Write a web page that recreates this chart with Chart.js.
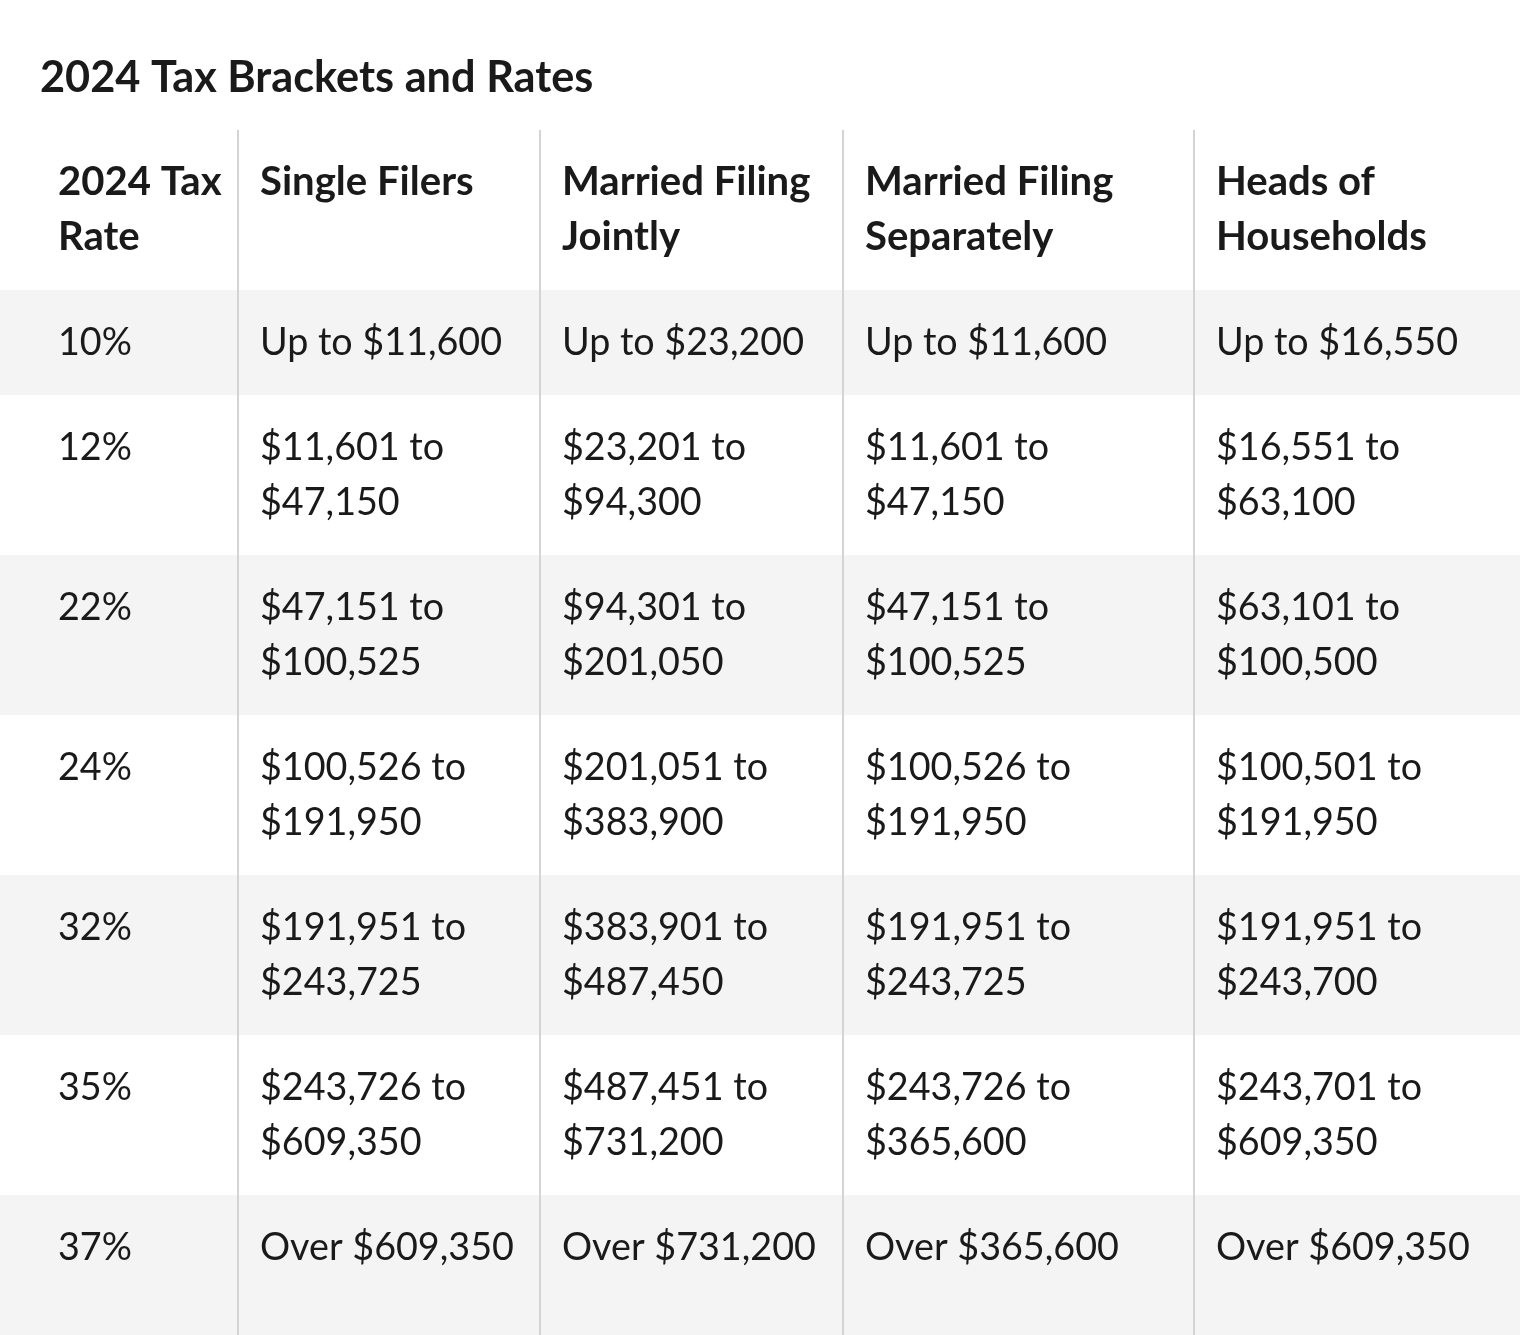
<!DOCTYPE html>
<html>
<head>
<meta charset="utf-8">
<title>2024 Tax Brackets and Rates</title>
<script src="https://cdn.jsdelivr.net/npm/chart.js@4.4.1/dist/chart.umd.min.js"></script>
<style>
  html, body { margin: 0; padding: 0; background: #fff; }
  #wrap { width: 1520px; height: 1335px; position: relative; }
</style>
</head>
<body>
<div id="wrap"><canvas id="taxTable"></canvas></div>
<script>
const TITLE = '2024 Tax Brackets and Rates';
const headers = ['2024 Tax Rate', 'Single Filers', 'Married Filing Jointly', 'Married Filing Separately', 'Heads of Households'];
const rates = ['10%', '12%', '22%', '24%', '32%', '35%', '37%'];
const singleFilers = [
  'Up to $11,600', '$11,601 to $47,150', '$47,151 to $100,525', '$100,526 to $191,950',
  '$191,951 to $243,725', '$243,726 to $609,350', 'Over $609,350'
];
const marriedJointly = [
  'Up to $23,200', '$23,201 to $94,300', '$94,301 to $201,050', '$201,051 to $383,900',
  '$383,901 to $487,450', '$487,451 to $731,200', 'Over $731,200'
];
const marriedSeparately = [
  'Up to $11,600', '$11,601 to $47,150', '$47,151 to $100,525', '$100,526 to $191,950',
  '$191,951 to $243,725', '$243,726 to $365,600', 'Over $365,600'
];
const headsOfHouseholds = [
  'Up to $16,550', '$16,551 to $63,100', '$63,101 to $100,500', '$100,501 to $191,950',
  '$191,951 to $243,700', '$243,701 to $609,350', 'Over $609,350'
];

// layout
const W = 1520, H = 1335;
const TABLE_TOP = 130;
const COL_EDGES = [36, 238, 540, 843, 1194, 1520];   // x-scale units (= px)
const CELL_PAD = 22;
const LINE_PX = 55;                                   // one y unit = one text line
const ROW_PAD = 50 / LINE_PX;
const BASELINE = 65 / LINE_PX;
const FAMILY = 'Lato, "Noto Sans", sans-serif';
const TEXT_COLOR = '#1a1a1a';
const BAND_COLOR = '#f4f4f4';
const RULE_COLOR = '#d4d4d4';

const measure = document.createElement('canvas').getContext('2d');
function fitSize(weight, sample, target) {
  measure.font = `${weight} 100px ${FAMILY}`;
  return Math.round(1000 * target / measure.measureText(sample).width) / 10;
}
const bodyFont = `400 ${fitSize(400, 'Up to $11,600', 242)}px ${FAMILY}`;
const headFont = `700 ${fitSize(700, 'Single Filers', 214)}px ${FAMILY}`;
const titleFont = `700 ${fitSize(700, TITLE, 553)}px ${FAMILY}`;

function wrap(text, font, maxW) {
  measure.font = font;
  const lines = [];
  let cur = '';
  text.split(' ').forEach(w => {
    const t = cur ? cur + ' ' + w : w;
    if (cur && measure.measureText(t).width > maxW) { lines.push(cur); cur = w; }
    else cur = t;
  });
  lines.push(cur);
  return lines;
}

const columns = [rates, singleFilers, marriedJointly, marriedSeparately, headsOfHouseholds];
const tableRows = [headers].concat(rates.map((_, i) => columns.map(c => c[i])));

let rowCursor = 0;
const rowLayout = tableRows.map((cells, r) => {
  const font = r === 0 ? headFont : bodyFont;
  const wrapped = cells.map((txt, c) => {
    const x0 = COL_EDGES[c] + CELL_PAD;
    return { x: x0, lines: wrap(txt, font, COL_EDGES[c + 1] - x0 - 10) };
  });
  const n = Math.max(...wrapped.map(w => w.lines.length));
  const row = { top: rowCursor, bottom: rowCursor + n + ROW_PAD, font, cells: wrapped, header: r === 0 };
  rowCursor = row.bottom;
  return row;
});
const Y_MAX = (H - TABLE_TOP) / LINE_PX;

const tablePlugin = {
  id: 'tablePlugin',
  beforeDraw(chart) {
    const { ctx, scales: { x, y } } = chart;
    ctx.save();
    ctx.fillStyle = BAND_COLOR;
    rowLayout.forEach((row, r) => {
      if (row.header || r % 2 === 0) return;
      const bottom = r === rowLayout.length - 1 ? Y_MAX : row.bottom;
      const y0 = y.getPixelForValue(row.top), y1 = y.getPixelForValue(bottom);
      ctx.fillRect(x.getPixelForValue(0), y0, x.getPixelForValue(W) - x.getPixelForValue(0), y1 - y0);
    });
    ctx.restore();
  },
  afterDraw(chart) {
    const { ctx, scales: { x, y } } = chart;
    ctx.save();
    ctx.fillStyle = TEXT_COLOR;
    ctx.textBaseline = 'alphabetic';
    ctx.textAlign = 'left';
    ctx.font = titleFont;
    ctx.fillText(TITLE, 40, 92);
    rowLayout.forEach(row => {
      ctx.font = row.font;
      row.cells.forEach(cell => {
        cell.lines.forEach((line, i) => {
          ctx.fillText(line, x.getPixelForValue(cell.x), y.getPixelForValue(row.top + BASELINE + i));
        });
      });
    });
    ctx.restore();
  }
};

new Chart(document.getElementById('taxTable'), {
  type: 'scatter',
  data: { datasets: [] },
  options: {
    responsive: true,
    maintainAspectRatio: false,
    animation: false,
    layout: { padding: { top: TABLE_TOP, left: 0, right: 0, bottom: 0 } },
    plugins: { legend: { display: false }, tooltip: { enabled: false }, title: { display: false } },
    scales: {
      x: {
        type: 'linear', min: 0, max: W,
        afterBuildTicks: axis => { axis.ticks = COL_EDGES.slice(1, -1).map(v => ({ value: v })); },
        ticks: { display: false },
        grid: { color: RULE_COLOR, lineWidth: 2, drawTicks: false },
        border: { display: false }
      },
      y: { type: 'linear', reverse: true, min: 0, max: Y_MAX, display: false }
    }
  },
  plugins: [tablePlugin]
});
</script>
</body>
</html>
